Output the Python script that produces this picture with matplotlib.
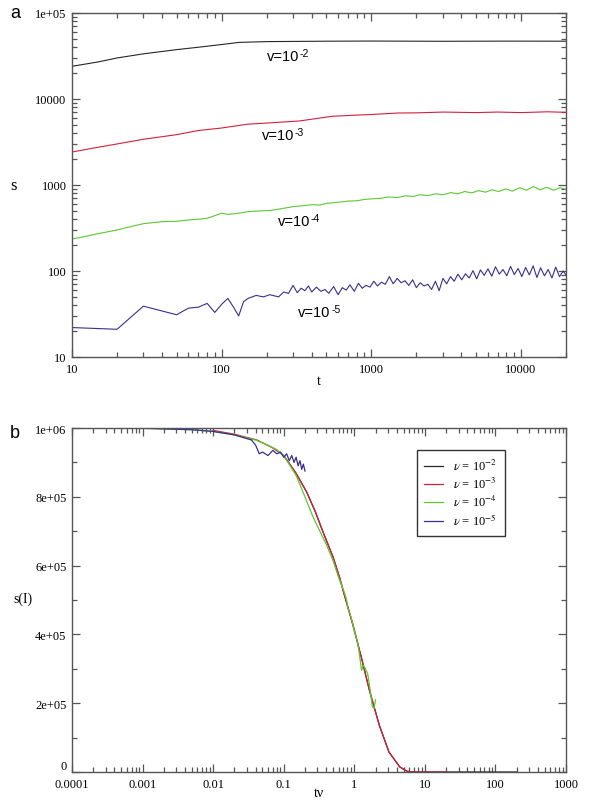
import numpy as np
import matplotlib
matplotlib.use('Agg')
import matplotlib.pyplot as plt
from matplotlib.ticker import LogLocator, NullFormatter, MultipleLocator

# ---- panel a : s(t) for four mutation rates ----
t_k2 = [10, 15, 20, 30, 50, 70, 100, 130, 200, 500, 1000, 3000, 8000, 20000]
s_k2 = [24000, 27000, 30000, 33500, 37500, 40000, 43000, 45500, 46500, 47000,
        47200, 46900, 47100, 47000]

t_k3 = [10, 15, 20, 30, 50, 70, 100, 150, 200, 330, 550, 800, 1000, 1500,
        2000, 3000, 5000, 7000, 10000, 15000, 20000]
s_k3 = [2420, 2750, 3000, 3400, 3850, 4300, 4600, 5100, 5250, 5550, 6300,
        6500, 6600, 6870, 6900, 7050, 6950, 7050, 6950, 7100, 7000]

t_k4 = [10, 12, 15, 20, 25, 30, 40, 50, 60, 70, 80, 90, 100, 110, 130, 150,
        180, 210, 250, 300, 350, 400, 450, 500, 600, 700, 800, 900, 1000,
        1150, 1300, 1500, 1700, 1900, 2100, 2400, 2700, 3000, 3400, 3800,
        4200, 4700, 5200, 5800, 6400, 7100, 7900, 8800, 9800, 10900, 12100,
        13400, 14900, 16500, 18300, 20000]
s_k4 = [236, 250, 272, 300, 330, 355, 375, 378, 392, 400, 410, 440, 470, 455,
        470, 490, 500, 505, 530, 560, 575, 590, 585, 610, 630, 650, 655, 680,
        690, 700, 725, 715, 750, 735, 770, 755, 790, 770, 815, 790, 840, 810,
        860, 825, 880, 840, 900, 850, 930, 870, 960, 880, 940, 870, 930, 890]

t_k5 = [10, 20, 30, 50, 60, 70, 80, 90, 100, 110, 120, 130, 140, 150, 170,
        190, 210, 240, 260, 280, 300, 320, 340, 360, 380, 400, 430, 460, 490,
        520, 560, 600, 640, 680, 720, 770, 820, 870, 920, 980, 1040, 1100,
        1170, 1240, 1320, 1400, 1490, 1580, 1680, 1780, 1890, 2000, 2120,
        2250, 2390, 2530, 2680, 2840, 3010, 3190, 3380, 3580, 3790, 4020,
        4260, 4510, 4780, 5060, 5360, 5680, 6020, 6380, 6760, 7160, 7590,
        8040, 8520, 9030, 9570, 10140, 10740, 11380, 12060, 12780, 13540,
        14350, 15200, 16110, 17070, 18090, 19170, 20000]
s_k5 = [22, 21, 39, 31, 37, 38, 42, 33, 41, 48, 38, 30, 44, 48, 52, 50, 53,
        50, 57, 55, 68, 56, 63, 59, 67, 57, 65, 58, 61, 55, 66, 53, 64, 60,
        69, 58, 72, 63, 68, 65, 76, 67, 74, 70, 86, 71, 82, 73, 77, 68, 79,
        64, 73, 67, 70, 61, 76, 59, 82, 71, 86, 76, 92, 79, 93, 83, 101, 81,
        103, 89, 106, 87, 112, 92, 104, 88, 113, 91, 107, 86, 110, 90, 115,
        84, 109, 88, 104, 83, 111, 86, 100, 90]

# ---- panel b : collapse onto t*nu ----
tv_k2 = [0.1, 0.15, 0.21, 0.28, 0.36, 0.5, 0.62, 0.7, 0.95, 1.27, 1.65, 2.27,
         3.1, 4.4, 5.6, 7, 20, 200]
sl_k2 = [0.92e6, 0.868e6, 0.815e6, 0.757e6, 0.698e6, 0.625e6, 0.565e6,
         0.525e6, 0.43e6, 0.33e6, 0.235e6, 0.135e6, 0.058e6, 0.015e6,
         0.002e6, 0, 0, 0]

tv_k3 = [0.01, 0.02, 0.042, 0.07, 0.1, 0.15, 0.21, 0.28, 0.36, 0.5, 0.62,
         0.7, 0.95, 1.27, 1.65, 2.27, 3.1, 4.4, 5.6, 7, 20]
sl_k3 = [0.993e6, 0.982e6, 0.965e6, 0.942e6, 0.92e6, 0.868e6, 0.815e6,
         0.757e6, 0.698e6, 0.625e6, 0.565e6, 0.525e6, 0.43e6, 0.33e6,
         0.235e6, 0.135e6, 0.058e6, 0.015e6, 0.002e6, 0, 0]

tv_k4 = [0.001, 0.005, 0.01, 0.02, 0.04, 0.06, 0.08, 0.1, 0.15, 0.2, 0.25,
         0.3, 0.4, 0.5, 0.6, 0.7, 0.74, 0.78, 0.8, 0.9, 1.0, 1.07, 1.15,
         1.27, 1.33, 1.4, 1.55, 1.7, 1.8, 1.9, 2.0]
sl_k4 = [1.0e6, 0.995e6, 0.99e6, 0.98e6, 0.965e6, 0.95e6, 0.937e6, 0.92e6,
         0.862e6, 0.80e6, 0.75e6, 0.715e6, 0.662e6, 0.615e6, 0.565e6,
         0.53e6, 0.515e6, 0.50e6, 0.48e6, 0.45e6, 0.41e6, 0.39e6, 0.36e6,
         0.295e6, 0.31e6, 0.305e6, 0.285e6, 0.23e6, 0.19e6, 0.185e6, 0.21e6]

tv_k5 = [0.0001, 0.001, 0.005, 0.01, 0.02, 0.035, 0.04, 0.045, 0.05, 0.06,
         0.07, 0.08, 0.09, 0.1, 0.11, 0.12, 0.13, 0.14, 0.15, 0.16, 0.17,
         0.18, 0.19, 0.2]
sl_k5 = [1.0e6, 0.999e6, 0.995e6, 0.99e6, 0.98e6, 0.965e6, 0.95e6, 0.925e6,
         0.93e6, 0.92e6, 0.935e6, 0.925e6, 0.93e6, 0.915e6, 0.925e6,
         0.905e6, 0.92e6, 0.90e6, 0.915e6, 0.89e6, 0.905e6, 0.88e6,
         0.895e6, 0.875e6]

nu_exp = ['-2', '-3', '-4', '-5']
colors = ['#262626', '#d2203c', '#5cc832', '#3a2f8f']

top_yticks = [10, 100, 1000, 10000, 100000]
top_ylabels = ['10', '100', '1000', '10000', '1e+05']
top_xticks = [10, 100, 1000, 10000]
top_xlabels = ['10', '100', '1000', '10000']
bot_xticks = [1e-4, 1e-3, 1e-2, 1e-1, 1, 10, 100, 1000]
bot_xlabels = ['0.0001', '0.001', '0.01', '0.1', '1', '10', '100', '1000']
bot_yticks = [0, 2e5, 4e5, 6e5, 8e5, 1e6]
bot_ylabels = ['0', '2e+05', '4e+05', '6e+05', '8e+05', '1e+06']

SERIF = 'Liberation Serif'
SANS = 'Liberation Sans'
AXC = '#555555'

plt.rcParams['mathtext.fontset'] = 'stix'


def style_axes(ax):
    for sp in ax.spines.values():
        sp.set_color(AXC)
        sp.set_linewidth(1.0)
    ax.tick_params(which='both', direction='in', top=True, right=True,
                   colors=AXC, width=0.9, labelcolor='black', labelsize=9)
    ax.tick_params(which='major', length=6, pad=4)
    ax.tick_params(which='minor', length=3.5)
    for lab in ax.get_xticklabels() + ax.get_yticklabels():
        lab.set_family(SERIF)


def nu_label(ax, x, y, expo):
    # "v=10" plus a small raised exponent, as in the original annotation
    base = ax.text(x, y, 'v=10', transform=ax.transAxes, family=SANS,
                   fontsize=10.5, va='center', ha='left')
    ax.annotate(expo, xy=(1.0, 1.0), xycoords=base, xytext=(0.3, 0.5),
                textcoords='offset points', family=SANS, fontsize=7.5,
                va='top', ha='left')


fig = plt.figure(figsize=(5.92, 8.03), dpi=100)
ax1 = fig.add_axes([72 / 592, 1 - 358 / 803, 494 / 592, 344 / 803])
ax2 = fig.add_axes([72 / 592, 1 - 773 / 803, 494 / 592, 344 / 803])

# panel a
top_series = [(t_k2, s_k2), (t_k3, s_k3), (t_k4, s_k4), (t_k5, s_k5)]
for (tt, ss), c in zip(top_series, colors):
    ax1.plot(tt, ss, color=c, lw=0.8)
ax1.set_xscale('log')
ax1.set_yscale('log')
ax1.set_xlim(10, 20000)
ax1.set_ylim(10, 100000)
ax1.set_xticks(top_xticks, top_xlabels)
ax1.set_yticks(top_yticks, top_ylabels)
for axis in (ax1.xaxis, ax1.yaxis):
    axis.set_minor_locator(LogLocator(base=10, subs=np.arange(2, 10), numticks=100))
    axis.set_minor_formatter(NullFormatter())
style_axes(ax1)
ax1.set_xlabel('t', family=SERIF, fontsize=10)
ax1.xaxis.set_label_coords(0.5, -0.05)
ax1.set_ylabel('s', family=SERIF, fontsize=12, rotation=0, va='center')
ax1.yaxis.set_label_coords(-0.118, 0.50)

label_pos = [(0.395, 0.875), (0.385, 0.645), (0.417, 0.395), (0.458, 0.131)]
for e, (px, py) in zip(nu_exp, label_pos):
    nu_label(ax1, px, py, e)

# panel b
bot_series = [(tv_k2, sl_k2), (tv_k3, sl_k3), (tv_k4, sl_k4), (tv_k5, sl_k5)]
for (xx, yy), c, e in zip(bot_series, colors, nu_exp):
    ax2.plot(xx, yy, color=c, lw=0.9, label=r'$\nu$ = 10$^{' + e + '}$')
ax2.set_xscale('log')
ax2.set_xlim(1e-4, 1000)
ax2.set_ylim(0, 1e6)
ax2.set_xticks(bot_xticks, bot_xlabels)
ax2.set_yticks(bot_yticks, bot_ylabels)
ax2.xaxis.set_minor_locator(LogLocator(base=10, subs=np.arange(2, 10), numticks=100))
ax2.xaxis.set_minor_formatter(NullFormatter())
ax2.yaxis.set_minor_locator(MultipleLocator(1e5))
style_axes(ax2)
# lift the "0" a little so it clears "0.0001"
ax2.yaxis.get_major_ticks()[0].label1.set_verticalalignment('bottom')
ax2.set_xlabel('tν', family=SERIF, fontsize=10)
ax2.xaxis.set_label_coords(0.5, -0.04)
ax2.set_ylabel('s(I)', family=SERIF, fontsize=10, rotation=0, va='center')
ax2.yaxis.set_label_coords(-0.099, 0.504)

leg = ax2.legend(loc='upper left', bbox_to_anchor=(0.698, 0.935),
                 prop={'family': SERIF, 'size': 9}, frameon=True,
                 fancybox=False, edgecolor='black', handlelength=1.5,
                 borderpad=0.6, labelspacing=0.25, handletextpad=0.8,
                 borderaxespad=0)
leg.get_frame().set_linewidth(1.0)

fig.text(15 / 592, 1 - 14 / 803, 'a', family=SANS, fontsize=13,
         ha='center', va='center')
fig.text(15 / 592, 1 - 434 / 803, 'b', family=SANS, fontsize=13,
         ha='center', va='center')

fig.savefig('out.png', dpi=100)
